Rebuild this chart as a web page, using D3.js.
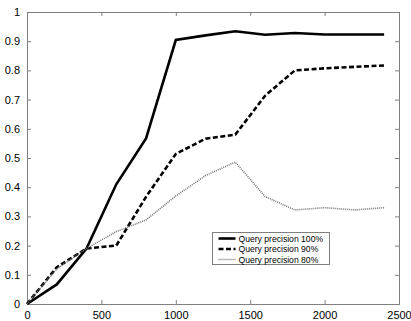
<!DOCTYPE html>
<html>
<head>
<meta charset="utf-8">
<script src="https://cdn.jsdelivr.net/npm/d3@7"></script>
<style>
  body { margin: 0; background: #fff; }
  svg { display: block; font-family: "Liberation Sans", Arial, sans-serif; }
</style>
</head>
<body>
<svg id="chart" width="411" height="321"></svg>
<script>
// query counts along the x axis
const queries = [0, 200, 400, 600, 800, 1000, 1200, 1400, 1600, 1800, 2000, 2200, 2400];

// precision curves
const prec100 = [0, 0.067, 0.19, 0.41, 0.567, 0.904, 0.92, 0.934, 0.922, 0.928, 0.923, 0.923, 0.923];
const prec90  = [0, 0.126, 0.19, 0.20, 0.367, 0.514, 0.566, 0.58, 0.713, 0.80, 0.807, 0.812, 0.817];
const prec80  = [0, 0.12, 0.19, 0.248, 0.288, 0.37, 0.44, 0.486, 0.368, 0.322, 0.33, 0.322, 0.33];

const seriesNames = ["Query precision 100%", "Query precision 90%", "Query precision 80%"];
const xTicks = [0, 500, 1000, 1500, 2000, 2500];
const yTicks = [0, 0.1, 0.2, 0.3, 0.4, 0.5, 0.6, 0.7, 0.8, 0.9, 1];

const svg = d3.select("#chart");
const mLeft = 27, mRight = 399, mTop = 12, mBottom = 304;

const x = d3.scaleLinear().domain([0, 2500]).range([mLeft, mRight]);
const y = d3.scaleLinear().domain([0, 1]).range([mBottom, mTop]);

const axisColor = "#808080";

// bottom axis with ticks pointing in
svg.append("g")
    .attr("transform", `translate(0,${mBottom})`)
    .call(d3.axisBottom(x).tickValues(xTicks).tickSize(-4).tickPadding(7).tickFormat(d3.format("d")))
    .call(g => g.select(".domain").attr("stroke", axisColor))
    .call(g => g.selectAll(".tick line").attr("stroke", axisColor))
    .call(g => g.selectAll(".tick text").attr("fill", "#000").attr("font-size", 11));

// left axis
svg.append("g")
    .attr("transform", `translate(${mLeft},0)`)
    .call(d3.axisLeft(y).tickValues(yTicks).tickSize(-4).tickPadding(7).tickFormat(d => String(+d.toFixed(1))))
    .call(g => g.select(".domain").attr("stroke", axisColor))
    .call(g => g.selectAll(".tick line").attr("stroke", axisColor))
    .call(g => g.selectAll(".tick text").attr("fill", "#000").attr("font-size", 11));

// top and right box edges with inward ticks
svg.append("g")
    .attr("transform", `translate(0,${mTop})`)
    .call(d3.axisTop(x).tickValues(xTicks).tickSize(-4).tickFormat(""))
    .call(g => g.select(".domain").attr("stroke", axisColor))
    .call(g => g.selectAll(".tick line").attr("stroke", axisColor));
svg.append("g")
    .attr("transform", `translate(${mRight},0)`)
    .call(d3.axisRight(y).tickValues(yTicks).tickSize(-4).tickFormat(""))
    .call(g => g.select(".domain").attr("stroke", axisColor))
    .call(g => g.selectAll(".tick line").attr("stroke", axisColor));

// the three curves
const styles = [
    { data: prec100, stroke: "#000", width: 2.6, dash: null },
    { data: prec90,  stroke: "#000", width: 2.6, dash: "5,2.5" },
    { data: prec80,  stroke: "#777", width: 1.6, dash: "1,1" }
];

const line = d3.line().x(d => x(d[0])).y(d => y(d[1]));

styles.forEach(s => {
    svg.append("path")
        .datum(queries.map((q, i) => [q, s.data[i]]))
        .attr("fill", "none")
        .attr("stroke", s.stroke)
        .attr("stroke-width", s.width)
        .attr("stroke-dasharray", s.dash)
        .attr("d", line);
});

// legend box
const legend = svg.append("g").attr("transform", "translate(212.5,232.5)");
legend.append("rect")
    .attr("width", 117).attr("height", 32)
    .attr("fill", "#fff").attr("stroke", axisColor).attr("stroke-width", 1);

seriesNames.forEach((name, i) => {
    const s = styles[i];
    const ly = 6 + i * 10.5;
    legend.append("line")
        .attr("x1", 6).attr("x2", 23).attr("y1", ly).attr("y2", ly)
        .attr("stroke", s.stroke)
        .attr("stroke-width", s.width)
        .attr("stroke-dasharray", s.dash);
    legend.append("text")
        .attr("x", 26).attr("y", ly)
        .attr("dy", "0.35em")
        .attr("font-size", 8.6)
        .text(name);
});
</script>
</body>
</html>
